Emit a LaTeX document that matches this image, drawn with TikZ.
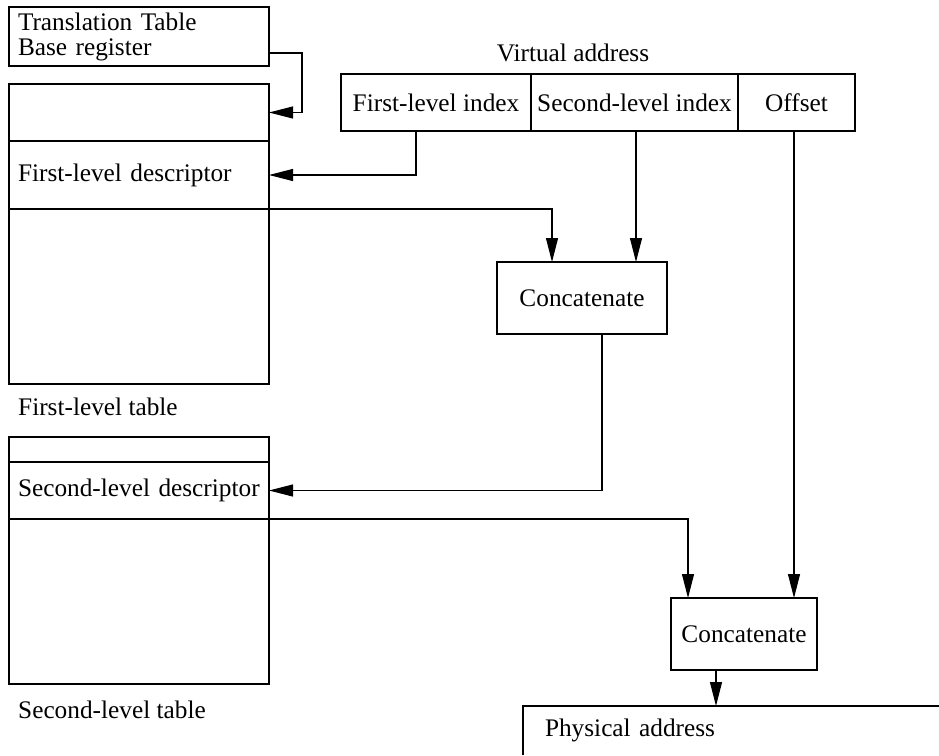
\documentclass[tikz,border=0pt]{standalone}
\usepackage{fontspec}
\setmainfont{Liberation Serif}
\usetikzlibrary{
  arrows.meta,
  positioning
}
\tikzset{
  walk/.style={ font=\fontsize{25.3}{25}\selectfont },
  cell/.style={
    draw,
    line width=1.1pt,
    outer sep=0pt,
    inner sep=0pt,
    inner xsep=9pt,
    text width=242pt,
    align=left
  },
  field/.style={
    draw,
    line width=1.1pt,
    minimum width=#1,
    minimum height=57pt,
    outer sep=0pt,
    inner sep=0pt,
    align=center
  },
  catbox/.style={
    draw,
    line width=1.1pt,
    minimum width=#1,
    minimum height=72pt,
    outer sep=0pt,
    inner sep=0pt,
    align=center
  },
  caption/.style={ anchor=west, inner sep=0pt },
  arrow/.style={
    -{Triangle[length=24pt,width=12pt]},
    line width=1.1pt
  }
}

\begin{document}
\begin{tikzpicture}[walk, x=1pt, y=-1pt]
  \useasboundingbox (0,0) rectangle (939,755);

  % translation table base register
  \node[cell, minimum height=59pt, anchor=north west] (ttbr) at (9,7)
    {Translation Table\\Base register};

  % first-level table
  \node[cell, minimum height=57pt, anchor=north west] (t1top) at (9,84) {};
  \node[cell, minimum height=68pt, below=0pt of t1top] (t1desc) {First-level descriptor};
  \node[cell, minimum height=175pt, below=0pt of t1desc] (t1rest) {};
  \node[caption] (t1name) at (18,407) {First-level table};

  % virtual address
  \node[field=190pt, anchor=north west] (vafirst) at (341,74) {First-level index};
  \node[field=207pt, right=0pt of vafirst] (vasecond) {Second-level index};
  \node[field=117pt, right=0pt of vasecond] (vaoff) {Offset};
  \node[inner sep=0pt] (vaname) at (573,53) {Virtual address};

  \node[catbox=170pt, anchor=north west] (cat1) at (497,262) {Concatenate};

  % second-level table
  \node[cell, minimum height=25pt, anchor=north west] (t2top) at (9,437) {};
  \node[cell, minimum height=57pt, below=0pt of t2top] (t2desc) {Second-level descriptor};
  \node[cell, minimum height=165pt, below=0pt of t2desc] (t2rest) {};
  \node[caption] (t2name) at (18,710) {Second-level table};

  \node[catbox=146pt, anchor=north west] (cat2) at (671,598) {Concatenate};

  % physical address, cut off by the page
  \node[anchor=north west, minimum width=416pt, minimum height=49pt,
        inner sep=0pt, inner xsep=22pt, text width=372pt, align=left,
        outer sep=0pt] (phys) at (523,706) {Physical address};
  \draw[line width=1.1pt] (phys.south west) -- (phys.north west) -- (phys.north east);

  % connectors
  \draw[arrow] ([yshift=13pt]ttbr.south east) -- ++(33,0) |- (t1top.east);
  \draw[arrow] ([xshift=-20pt]vafirst.south) |- (t1desc.east);
  \draw[arrow] (t1desc.south east) -| ([xshift=-30pt]cat1.north);
  \draw[arrow] ([xshift=1.5pt]vasecond.south) -- ([xshift=1.5pt]vasecond.south |- cat1.north);
  \draw[arrow] ([xshift=20pt]cat1.south) |- (t2desc.east);
  \draw[arrow] (t2desc.south east) -| ([xshift=-56pt]cat2.north);
  \draw[arrow] ([xshift=-2.5pt]vaoff.south) -- ([xshift=-2.5pt]vaoff.south |- cat2.north);
  \draw[arrow] ([xshift=-28pt]cat2.south) -- ([xshift=-28pt]cat2.south |- phys.north);
\end{tikzpicture}
\end{document}
